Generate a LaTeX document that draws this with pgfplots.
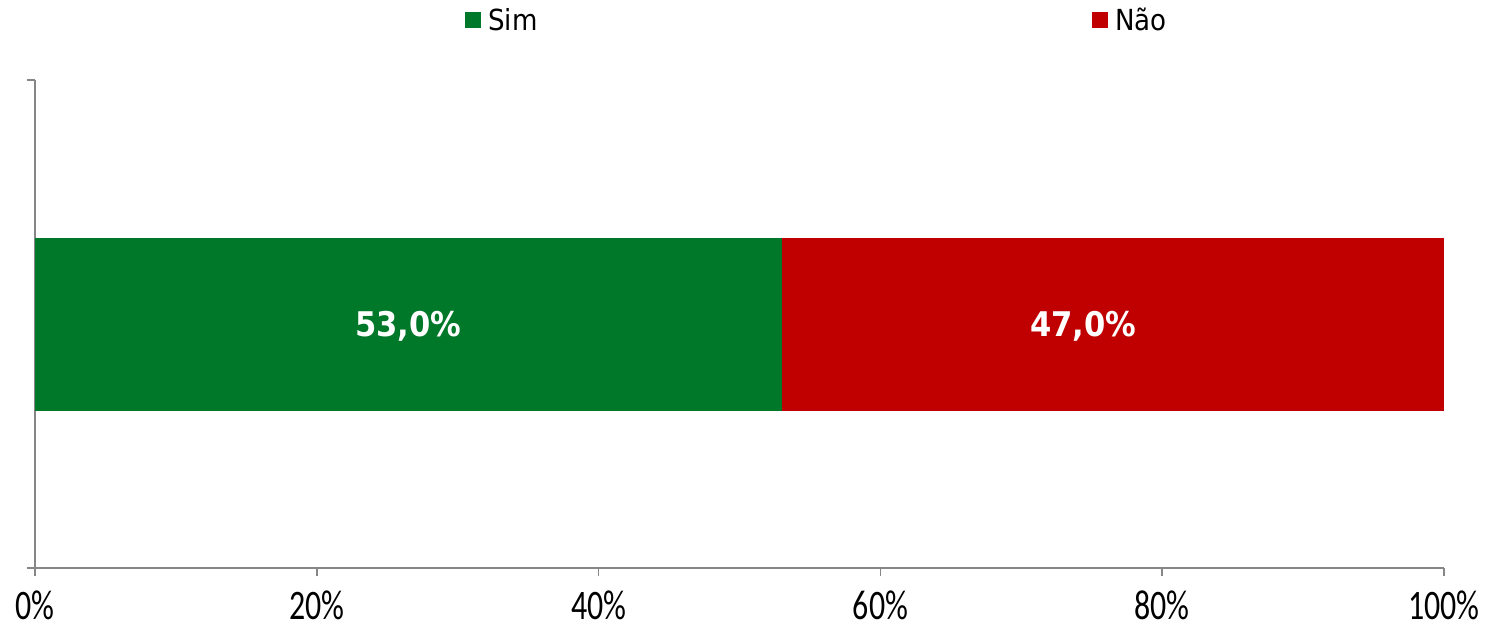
\documentclass[border=0pt]{standalone}
\usepackage{pgfplots}
\pgfplotsset{compat=1.18}
\usepackage{fontspec}
\setmainfont{DejaVu Sans Condensed}
\newfontfamily\tickfont[FakeStretch=0.76]{Carlito}
\newfontfamily\legfont{DejaVu Sans Condensed}
\newfontfamily\valfont{DejaVu Sans Condensed Bold}
\definecolor{simgreen}{RGB}{0,120,41}
\definecolor{naored}{RGB}{192,0,0}
\definecolor{axgray}{RGB}{134,134,134}
\begin{document}
\begin{tikzpicture}
\begin{axis}[
  scale only axis,
  width=1409pt, height=488pt,
  xbar stacked,
  bar width=173pt,
  xmin=0, xmax=100,
  ymin=0.5, ymax=1.5,
  axis lines*=left,
  axis line style={axgray, line width=1.6pt},
  tick style={axgray, line width=1.6pt},
  major tick length=8pt,
  tick align=outside,
  xtick={0,20,40,60,80,100},
  xticklabels={0\%,20\%,40\%,60\%,80\%,100\%},
  xticklabel style={font=\tickfont\fontsize{42}{46}\selectfont, inner sep=0pt, yshift=-15pt, text=black},
  ytick={0.5,1.5},
  yticklabels={},
  legend columns=2,
  legend style={draw=none, fill=none, inner sep=0pt, at={(0.3052,1.1230)}, anchor=west,
    font=\legfont\fontsize{29}{34}\selectfont,
    nodes={inner sep=1pt},
    /tikz/every odd column/.append style={column sep=6pt},
    /tikz/every even column/.append style={column sep=554pt}},
]
\addplot[fill=simgreen, draw=none, legend image code/.code={\fill[simgreen] (0pt,-8pt) rectangle (16pt,8pt);}] coordinates {(53,1)};
\addlegendentry{Sim}
\addplot[fill=naored, draw=none, legend image code/.code={\fill[naored] (0pt,-8pt) rectangle (16pt,8pt);}] coordinates {(47,1)};
\addlegendentry{Não}
\end{axis}
\begin{axis}[
  scale only axis,
  width=1409pt, height=488pt,
  xmin=0, xmax=100,
  ymin=0.5, ymax=1.5,
  hide axis,
]
\addplot[only marks, mark=none, nodes near coords, point meta=explicit symbolic,
  every node near coord/.append style={anchor=center, yshift=-2pt, text=white, font=\valfont\fontsize{34}{40}\selectfont}]
  coordinates {(26.5,1) [53,0\%] (74.4,1) [47,0\%]};
\end{axis}
\pgfresetboundingbox
\path[use as bounding box] (-35pt,-62pt) rectangle (1460pt,568pt);
\end{tikzpicture}
\end{document}
